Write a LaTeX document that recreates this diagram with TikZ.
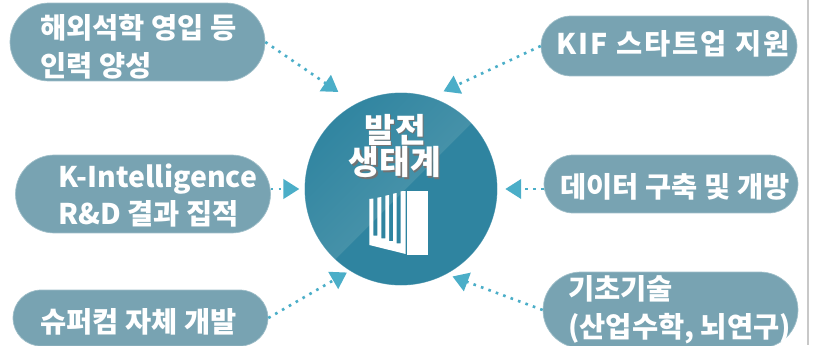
\documentclass[tikz,border=0pt]{standalone}
\usepackage{fontspec}
\setmainfont{Noto Sans CJK KR}
\usetikzlibrary{arrows.meta,shapes.misc}
\definecolor{pillcol}{HTML}{78A3B2}
\definecolor{tipcol}{HTML}{4BAEC8}
\definecolor{hubcol}{HTML}{2F84A0}
\definecolor{hublight}{HTML}{5A9DB0}
\definecolor{edgecol}{HTML}{C8C8C8}
\tikzset{
    pill/.style={rounded rectangle,fill=pillcol,draw=pillcol!70!white,line width=0.4pt,inner sep=0pt},
    pilltext/.style={anchor=west,text=white,font=\fontsize{16.2}{21.5}\selectfont\bfseries,align=left,inner sep=0pt},
    link/.style={tipcol,line width=1.5pt,dash pattern=on 1.5pt off 3pt,-{Triangle[length=9pt,width=11pt]}},
    hubtext/.style={font=\fontsize{19}{18.7}\selectfont\bfseries,align=center,inner sep=0pt}
}
\begin{document}
\begin{tikzpicture}[x=0.02cm,y=-0.02cm]
    \useasboundingbox (0,0) rectangle (815,345);
    \clip (0,0) rectangle (815,345);
    \draw[edgecol,line width=1pt] (808,0) -- (808,345);

    % hub
    \node[circle,fill=hubcol,draw=hubcol!60!white,line width=0.5pt,minimum size=3.84cm,inner sep=0pt] (hub) at (401,189) {};
    \begin{scope}
        \clip (401,189) circle (96);
        \shade[left color=hubcol,right color=hublight,shading angle=45] (472,123) -- (300,295) -- (290,90) -- (500,90) -- cycle;
        \fill[hubcol] (472,123) -- (300,295) -- (520,295) -- (520,90) -- cycle;
    \end{scope}
    \node[hubtext,text=black!55] (hubshade) at (396.5,147.5) {발전\\생태계};
    \node[hubtext,text=white] (hubname) at (395,146) {발전\\생태계};

    % icon
    \fill[white] (406.7,191) rectangle (428,255);
    \fill[white] (369.3,199) -- (373.3,198.5) -- (373.3,235.7) -- (377.3,235.7) -- (377.3,197.7) -- (381.3,197) -- (381.3,238.3) -- (385.3,238.3) -- (385.3,195.7) -- (389,195) -- (389,241) -- (393,241) -- (393,193.7) -- (396.7,193) -- (396.7,243.3) -- (400.7,243.3) -- (400.7,191.3) -- (405.7,191) -- (405.7,254) -- (369.3,245) -- cycle;

    % pills
    \node[pill,minimum width=5.1cm,minimum height=1.56cm] (abroad) at (137.5,42) {};
    \node[pill,minimum width=5.1cm,minimum height=1.56cm] (rnd) at (143,194) {};
    \node[pill,minimum width=5.1cm,minimum height=1.12cm] (super) at (140.5,318) {};
    \node[pill,minimum width=5.12cm,minimum height=1.2cm] (kif) at (669,46) {};
    \node[pill,minimum width=5.08cm,minimum height=1.16cm] (data) at (671,184) {};
    \node[pill,minimum width=5.1cm,minimum height=1.52cm] (basic) at (670.5,310) {};

    \node[pilltext] (abroadtext) at (40,46.5) {해외석학 영입 등\\인력 양성};
    \node[pilltext] (rndtext) at (58,195.5) {K-Intelligence\\R\&D 결과 집적};
    \node[pilltext] (supertext) at (40,322) {슈퍼컴 자체 개발};
    \node[pilltext] (kiftext) at (556,44) {\addfontfeature{LetterSpace=7}KIF 스타트업 지원};
    \node[pilltext] (datatext) at (560,187) {데이터 구축 및 개방};
    \node[pilltext] (basictext) at (568,309.5) {기초기술\\(산업수학, 뇌연구)};

    % arrows
    \draw[link,shorten >=12pt] (abroad.east) -- (hub.118);
    \draw[link,shorten >=8pt] (kif.west) -- (hub.72);
    \draw[link,shorten >=3pt] (rnd.east |- hub.west) -- (hub.west);
    \draw[link,shorten >=4.5pt] (data.west |- hub.east) -- (hub.east);
    \draw[link,shorten >=2pt] (super.east) -- (hub.238);
    \draw[link,shorten >=3.8pt] (basic.west) -- (hub.298);
\end{tikzpicture}
\end{document}
